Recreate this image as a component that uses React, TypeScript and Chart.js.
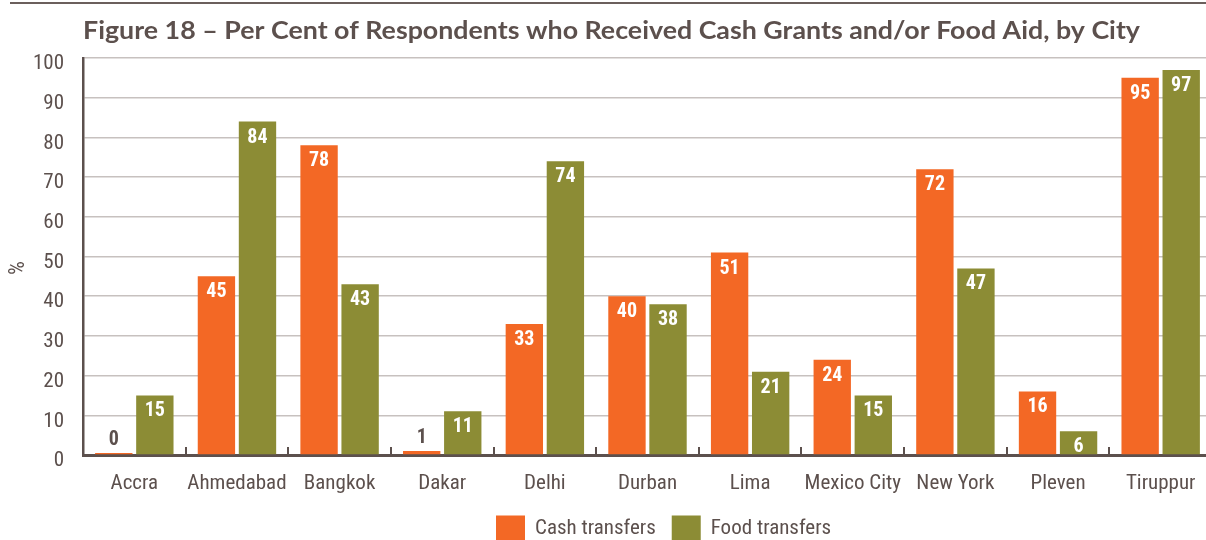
import React, { useEffect, useRef } from "react";
import { Chart, registerables } from "chart.js";

Chart.register(...registerables);

const titleText = "Figure 18 – Per Cent of Respondents who Received Cash Grants and/or Food Aid, by City";
const categories = ["Accra", "Ahmedabad", "Bangkok", "Dakar", "Delhi", "Durban", "Lima", "Mexico City", "New York", "Pleven", "Tiruppur"];
const cashTransfers = [0, 45, 78, 1, 33, 40, 51, 24, 72, 16, 95];
const foodTransfers = [15, 84, 43, 11, 74, 38, 21, 15, 47, 6, 97];
const seriesNames = ["Cash transfers", "Food transfers"];
const yAxisTitle = "%";
const yMin = 0;
const yMax = 100;
const yStep = 10;

const ORANGE = "#F36825";
const GREEN = "#8C8C35";
const TEXT = "#5C504D";
const GRID = "#C7C1BF";
const FONT = "'Roboto Condensed', Roboto, 'Noto Sans', sans-serif";

const decorPlugin = {
  id: "decor",
  beforeDraw(chart: any) {
    const ctx = chart.ctx;
    ctx.save();
    ctx.strokeStyle = "#6B5F5C";
    ctx.lineWidth = 2;
    ctx.beginPath();
    ctx.moveTo(10, 3);
    ctx.lineTo(chart.width, 3);
    ctx.stroke();
    ctx.fillStyle = TEXT;
    ctx.font = "bold 25px Lato, 'Open Sans', sans-serif";
    ctx.textBaseline = "alphabetic";
    ctx.textAlign = "left";
    const w = ctx.measureText(titleText).width;
    const sx = 1057 / w;
    ctx.translate(83, 39);
    ctx.scale(sx, 1);
    ctx.fillText(titleText, 0, 0);
    ctx.restore();
  },
  afterDraw(chart: any) {
    const ctx = chart.ctx;
    const xs = chart.scales.x;
    const area = chart.chartArea;
    ctx.save();
    // category boundary ticks
    ctx.strokeStyle = TEXT;
    ctx.lineWidth = 2;
    const n = categories.length;
    for (let i = 1; i < n; i++) {
      const a = xs.getPixelForValue(i - 1);
      const b = xs.getPixelForValue(i);
      const x = Math.round((a + b) / 2);
      ctx.beginPath();
      ctx.moveTo(x, area.bottom);
      ctx.lineTo(x, area.bottom - 8);
      ctx.stroke();
    }
    // y axis title
    ctx.save();
    ctx.translate(18, 268);
    ctx.rotate(-Math.PI / 2);
    ctx.font = "22px " + FONT;
    ctx.fillStyle = TEXT;
    ctx.textAlign = "center";
    ctx.textBaseline = "middle";
    ctx.fillText(yAxisTitle, 0, 0);
    ctx.restore();
    // data labels
    chart.data.datasets.forEach((ds: any, di: number) => {
      const meta = chart.getDatasetMeta(di);
      meta.data.forEach((el: any, i: number) => {
        const v = ds.data[i];
        ctx.font = "bold 20px " + FONT;
        ctx.textAlign = "center";
        ctx.textBaseline = "middle";
        if (v >= 5) {
          ctx.fillStyle = "#FFFFFF";
          ctx.fillText(String(v), el.x, el.y + 16);
        } else {
          ctx.fillStyle = TEXT;
          ctx.fillText(String(v), el.x, el.y - 13);
        }
      });
    });
    // legend
    const boxW = 29;
    const boxH = 25;
    const cy = 528;
    let x = 496;
    ctx.font = "21px " + FONT;
    ctx.textAlign = "left";
    ctx.textBaseline = "middle";
    chart.data.datasets.forEach((ds: any) => {
      ctx.fillStyle = ds.backgroundColor;
      ctx.fillRect(x, cy - boxH / 2, boxW, boxH);
      x += boxW + 10;
      ctx.fillStyle = TEXT;
      ctx.fillText(ds.label, x, cy + 1);
      x += ctx.measureText(ds.label).width + 16;
    });
    ctx.restore();
  },
};

export default function App() {
  const ref = useRef<HTMLCanvasElement | null>(null);
  useEffect(() => {
    if (!ref.current) return;
    const chart = new Chart(ref.current, {
      type: "bar",
      data: {
        labels: categories,
        datasets: [
          { label: seriesNames[0], data: cashTransfers, backgroundColor: ORANGE, minBarLength: 2, categoryPercentage: 0.8, barPercentage: 0.91 },
          { label: seriesNames[1], data: foodTransfers, backgroundColor: GREEN, categoryPercentage: 0.8, barPercentage: 0.91 },
        ],
      },
      options: {
        responsive: false,
        animation: false,
        devicePixelRatio: 1,
        layout: { padding: { top: 58, left: 0, right: 0, bottom: 45 } },
        plugins: { legend: { display: false }, tooltip: { enabled: false }, title: { display: false } },
        scales: {
          x: {
            grid: { display: false },
            border: { display: true, color: TEXT, width: 3 },
            ticks: { color: TEXT, font: { family: FONT, size: 21 }, padding: 8, maxRotation: 0, autoSkip: false },
            afterFit(scale: any) { scale.height = 40; },
          },
          y: {
            min: yMin,
            max: yMax,
            grid: { color: GRID, lineWidth: 1.5, drawTicks: false },
            border: { display: true, color: TEXT, width: 2.5 },
            ticks: { stepSize: yStep, color: TEXT, font: { family: FONT, size: 21 }, padding: 19, labelOffset: 6 },
            afterFit(scale: any) { scale.width = 83; },
          },
        },
      },
      plugins: [decorPlugin],
    });
    return () => chart.destroy();
  }, []);
  return (
    <div style={{ position: "fixed", left: 0, top: 0, width: 1206, height: 540, overflow: "hidden", background: "#fff" }}>
      <canvas ref={ref} width={1212} height={540} style={{ display: "block" }} />
    </div>
  );
}
